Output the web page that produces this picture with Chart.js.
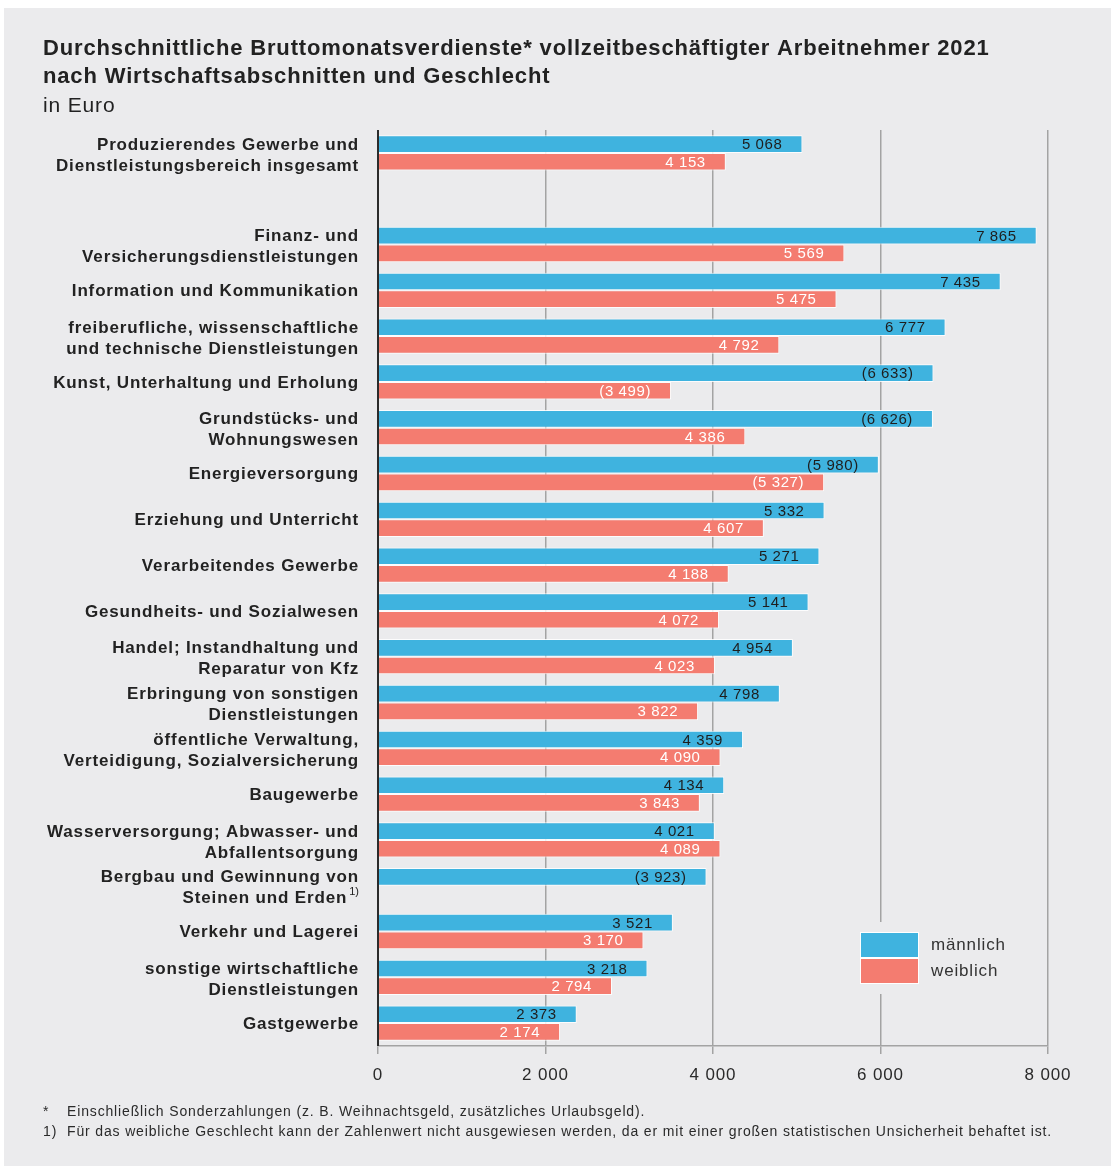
<!DOCTYPE html>
<html>
<head>
<meta charset="utf-8">
<script src="https://cdn.jsdelivr.net/npm/chart.js@4.4.1/dist/chart.umd.min.js"></script>
<style>
  html, body { margin:0; padding:0; background:#fff; }
  #wrap { position:relative; width:1115px; height:1169px; }
</style>
</head>
<body>
<div id="wrap"><canvas id="chart" width="1115" height="1169"></canvas></div>
<script>
const FONT = "'Liberation Sans', Arial, sans-serif";
const BLUE = "#3fb3df", RED = "#f47c70", BG = "#ebebed", INK = "#222";
const TRACK = "0.85px";

const TITLE = [
  "Durchschnittliche Bruttomonatsverdienste* vollzeitbeschäftigter Arbeitnehmer 2021",
  "nach Wirtschaftsabschnitten und Geschlecht"
];
const SUBTITLE = "in Euro";
const FOOTNOTES = [
  ["*", "Einschließlich Sonderzahlungen (z. B. Weihnachtsgeld, zusätzliches Urlaubsgeld)."],
  ["1)", "Für das weibliche Geschlecht kann der Zahlenwert nicht ausgewiesen werden, da er mit einer großen statistischen Unsicherheit behaftet ist."]
];

const categories = [
  ["Produzierendes Gewerbe und", "Dienstleistungsbereich insgesamt"],
  [""],
  ["Finanz- und", "Versicherungsdienstleistungen"],
  ["Information und Kommunikation"],
  ["freiberufliche, wissenschaftliche", "und technische Dienstleistungen"],
  ["Kunst, Unterhaltung und Erholung"],
  ["Grundstücks- und", "Wohnungswesen"],
  ["Energieversorgung"],
  ["Erziehung und Unterricht"],
  ["Verarbeitendes Gewerbe"],
  ["Gesundheits- und Sozialwesen"],
  ["Handel; Instandhaltung und", "Reparatur von Kfz"],
  ["Erbringung von sonstigen", "Dienstleistungen"],
  ["öffentliche Verwaltung,", "Verteidigung, Sozialversicherung"],
  ["Baugewerbe"],
  ["Wasserversorgung; Abwasser- und", "Abfallentsorgung"],
  ["Bergbau und Gewinnung von", "Steinen und Erden"],
  ["Verkehr und Lagerei"],
  ["sonstige wirtschaftliche", "Dienstleistungen"],
  ["Gastgewerbe"]
];
// footnote marker per category (superscript after the last line)
const categoryNotes = ["", "", "", "", "", "", "", "", "", "", "", "", "", "", "", "", "1)", "", "", ""];

const seriesNames = ["männlich", "weiblich"];
const male   = [5068, null, 7865, 7435, 6777, 6633, 6626, 5980, 5332, 5271, 5141, 4954, 4798, 4359, 4134, 4021, 3923, 3521, 3218, 2373];
const female = [4153, null, 5569, 5475, 4792, 3499, 4386, 5327, 4607, 4188, 4072, 4023, 3822, 4090, 3843, 4089, null, 3170, 2794, 2174];
// values shown in brackets (limited reliability)
const maleBracket   = [0,0,0,0,0,1,1,1,0,0,0,0,0,0,0,0,1,0,0,0];
const femaleBracket = [0,0,0,0,0,1,0,1,0,0,0,0,0,0,0,0,0,0,0,0];

const xTicks = [0, 2000, 4000, 6000, 8000];

const fmt = v => String(v).replace(/\B(?=(\d{3})+(?!\d))/g, " ");

const background = {
  id: "background",
  beforeUpdate(chart) { chart.ctx.letterSpacing = TRACK; },
  beforeDraw(chart) {
    const c = chart.ctx;
    c.letterSpacing = TRACK;
    c.save();
    c.fillStyle = "#fff";
    c.fillRect(0, 0, chart.width, chart.height);
    c.fillStyle = BG;
    c.fillRect(4, 8, 1107, 1158);
    c.restore();
  }
};

const texts = {
  id: "texts",
  afterDraw(chart) {
    const c = chart.ctx;
    c.save();
    c.letterSpacing = TRACK;
    c.fillStyle = INK;
    c.textAlign = "left";
    c.textBaseline = "alphabetic";
    c.font = `bold 22px ${FONT}`;
    c.fillText(TITLE[0], 43, 55);
    c.fillText(TITLE[1], 43, 83);
    c.font = `21px ${FONT}`;
    c.fillText(SUBTITLE, 43, 112);

    c.font = `14px ${FONT}`;
    c.fillStyle = "#2a2a2a";
    FOOTNOTES.forEach((f, i) => {
      c.fillText(f[0], 43, 1116 + i * 20);
      c.fillText(f[1], 67, 1116 + i * 20);
    });

    // category labels
    const y = chart.scales.y;
    c.fillStyle = INK;
    c.textAlign = "right";
    c.textBaseline = "middle";
    categories.forEach((lines, i) => {
      const cy = y.getPixelForValue(i) + (lines.length > 1 ? 2.5 : 1);
      const lh = 21;
      const top = cy - (lines.length - 1) * lh / 2;
      lines.forEach((ln, j) => {
        let xr = 359;
        const ly = top + j * lh;
        if (j === lines.length - 1 && categoryNotes[i]) {
          c.font = `11px ${FONT}`;
          c.letterSpacing = "0px";
          const w = c.measureText(categoryNotes[i]).width;
          c.textAlign = "left";
          c.fillText(categoryNotes[i], xr - w, ly - 7);
          c.textAlign = "right";
          c.letterSpacing = TRACK;
          xr -= w + 2;
        }
        c.font = `bold 17px ${FONT}`;
        c.fillText(ln, xr, ly);
      });
    });

    // legend
    const lx = 860, ly0 = 932, bw = 59, bh = 26;
    c.fillStyle = BG;
    c.fillRect(848, 922, 170, 72);
    [BLUE, RED].forEach((col, i) => {
      c.fillStyle = col;
      c.fillRect(lx, ly0 + i * bh, bw, bh);
      c.strokeStyle = "#fff";
      c.lineWidth = 1;
      c.strokeRect(lx + 0.5, ly0 + i * bh + 0.5, bw - 1, bh - 1);
      c.fillStyle = "#333";
      c.font = `17px ${FONT}`;
      c.textAlign = "left";
      c.textBaseline = "middle";
      c.fillText(seriesNames[i], 931, ly0 + i * bh + bh / 2);
    });
    c.restore();
  }
};

const valueLabels = {
  id: "valueLabels",
  afterDatasetsDraw(chart) {
    const c = chart.ctx;
    c.save();
    // zero line over the bars
    const x0 = chart.scales.x.getPixelForValue(0);
    c.strokeStyle = "#2b2b2b";
    c.lineWidth = 2;
    c.beginPath();
    c.moveTo(x0, chart.chartArea.top);
    c.lineTo(x0, chart.chartArea.bottom);
    c.stroke();

    c.letterSpacing = "0.6px";
    c.font = `15px ${FONT}`;
    c.textAlign = "right";
    c.textBaseline = "middle";
    const brackets = [maleBracket, femaleBracket];
    chart.data.datasets.forEach((ds, di) => {
      const meta = chart.getDatasetMeta(di);
      c.fillStyle = di === 0 ? "#1e1e1e" : "#fff";
      meta.data.forEach((bar, i) => {
        const v = ds.data[i];
        if (v == null) return;
        const t = brackets[di][i] ? `(${fmt(v)})` : fmt(v);
        c.fillText(t, bar.x - 20, bar.y + 1);
      });
    });
    c.restore();
  }
};

new Chart(document.getElementById("chart"), {
  type: "bar",
  data: {
    labels: categories.map(l => l.join(" ")),
    datasets: [
      { label: seriesNames[0], data: male, backgroundColor: BLUE, borderColor: "rgba(255,255,255,0.85)", borderWidth: 1 },
      { label: seriesNames[1], data: female, backgroundColor: RED, borderColor: "rgba(255,255,255,0.85)", borderWidth: 1 }
    ]
  },
  options: {
    indexAxis: "y",
    responsive: false,
    animation: false,
    layout: { padding: { left: 378, right: 67, top: 130, bottom: 73 } },
    datasets: { bar: { categoryPercentage: 0.77, barPercentage: 1.0 } },
    plugins: { legend: { display: false }, tooltip: { enabled: false } },
    scales: {
      y: { display: false },
      x: {
        min: 0, max: 8000,
        afterBuildTicks: s => { s.ticks = xTicks.map(v => ({ value: v })); },
        afterFit: s => { s.height = 50; },
        border: { display: true, color: "#a3a3a3", width: 1.5 },
        grid: {
          color: ctx => ctx.tick && ctx.tick.value === 0 ? "rgba(0,0,0,0)" : "#a3a3a3",
          lineWidth: 1.5,
          tickColor: "#a3a3a3",
          tickLength: 8,
          drawTicks: true
        },
        ticks: {
          color: "#2a2a2a",
          font: { family: FONT, size: 17 },
          padding: 11,
          callback: v => fmt(v)
        }
      }
    }
  },
  plugins: [background, valueLabels, texts]
});
</script>
</body>
</html>
